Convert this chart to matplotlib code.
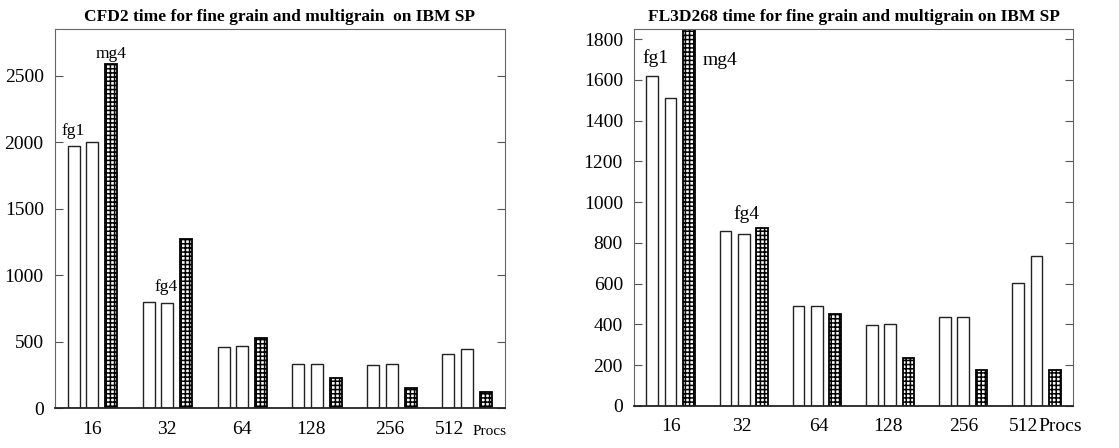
import matplotlib.pyplot as plt
import matplotlib.transforms as mtransforms
import numpy as np

plt.rcParams['font.family'] = ['Liberation Serif', 'DejaVu Serif']
plt.rcParams['hatch.linewidth'] = 1.1
plt.rcParams['hatch.color'] = 'black'

# Data
procs = ['16', '32', '64', '128', '256', '512']

cfd2_fg1 = [1970, 800, 460, 335, 325, 405]
cfd2_fg4 = [2000, 790, 465, 330, 335, 445]
cfd2_mg4 = [2590, 1270, 525, 225, 148, 120]

fl3d_fg1 = [1620, 860, 490, 395, 435, 605]
fl3d_fg4 = [1510, 845, 490, 400, 435, 735]
fl3d_mg4 = [1950, 875, 450, 235, 175, 178]

x = np.arange(len(procs))
off = 0.25
width = 0.16
pad = 9

fig = plt.figure(figsize=(11.19, 4.48), dpi=100)
ax1 = fig.add_axes([0.049, 0.089, 0.402, 0.846])
ax2 = fig.add_axes([0.5666, 0.0938, 0.3923, 0.8415])


def draw(ax, fg1, fg4, mg4, ymax, yticks, title, tickpos):
    ax.bar(x - off, fg1, width, color='white', edgecolor='#222222', linewidth=1.0)
    ax.bar(x, fg4, width, color='white', edgecolor='#222222', linewidth=1.0)
    ax.bar(x + off, mg4, width, color='white', edgecolor='black', linewidth=1.3,
           hatch='++++')
    ax.set_xlim(-0.5, 5.5)
    ax.set_ylim(0, ymax)
    ax.set_yticks(yticks)
    ax.tick_params(axis='y', direction='in', left=True, right=True, length=6,
                   color='#555555', labelsize=14, pad=8)
    ax.set_xticks(tickpos)
    ax.set_xticklabels(procs)
    ax.tick_params(axis='x', length=0, labelsize=14, pad=pad)
    for s in ['left', 'right', 'top']:
        ax.spines[s].set_color('#666666')
    ax.spines['bottom'].set_color('#222222')
    ax.spines['bottom'].set_linewidth(1.3)
    ax.set_title(title, fontsize=12.5, fontweight='bold', pad=6)


draw(ax1, cfd2_fg1, cfd2_fg4, cfd2_mg4, 2850, [0, 500, 1000, 1500, 2000, 2500],
     'CFD2 time for fine grain and multigrain  on IBM SP',
     [0, 1, 2, 2.92, 3.97, 4.77])
draw(ax2, fl3d_fg1, fl3d_fg4, fl3d_mg4, 1850, list(range(0, 1801, 200)),
     'FL3D268 time for fine grain and multigrain on IBM SP',
     [0, 0.97, 2.03, 2.97, 4.0, 4.82])

# "Procs" note next to the last tick label
t1 = mtransforms.offset_copy(ax1.get_xaxis_transform(), fig=fig, y=-pad - 3, units='points')
ax1.text(5.3, 0, 'Procs', transform=t1, ha='center', va='top', fontsize=11)
t2 = mtransforms.offset_copy(ax2.get_xaxis_transform(), fig=fig, y=-pad, units='points')
ax2.text(5.33, 0, 'Procs', transform=t2, ha='center', va='top', fontsize=14)

# series labels
ax1.text(x[0] - off, cfd2_fg1[0] + 55, 'fg1', ha='center', va='bottom', fontsize=12.5)
ax1.text(x[0] + off, cfd2_mg4[0] + 15, 'mg4', ha='center', va='bottom', fontsize=12.5)
ax1.text(x[1] - 0.02, cfd2_fg4[1] + 60, 'fg4', ha='center', va='bottom', fontsize=12.5)

ax2.text(x[0] - off + 0.05, fl3d_fg1[0] + 45, 'fg1', ha='center', va='bottom', fontsize=14)
ax2.text(x[0] + off + 0.42, 1655, 'mg4', ha='center', va='bottom', fontsize=14)
ax2.text(x[1] + 0.03, fl3d_fg4[1] + 55, 'fg4', ha='center', va='bottom', fontsize=14)

plt.savefig('out.png', dpi=100)
